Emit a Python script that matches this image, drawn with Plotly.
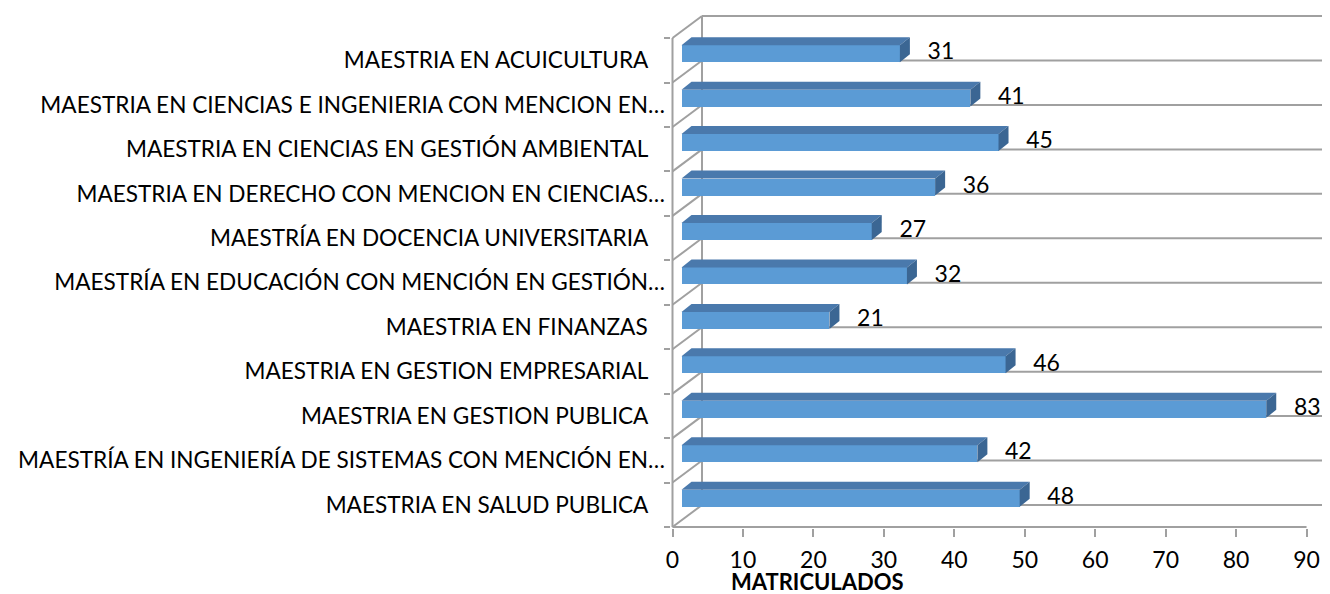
import plotly.graph_objects as go

# ---------------- data ----------------
categories = [
    "MAESTRIA EN ACUICULTURA\u00a0\u00a0\u00a0",
    "MAESTRIA EN CIENCIAS E INGENIERIA CON MENCION EN…",
    "MAESTRIA EN CIENCIAS EN GESTIÓN AMBIENTAL\u00a0\u00a0\u00a0",
    "MAESTRIA EN DERECHO CON MENCION EN CIENCIAS…",
    "MAESTRÍA EN DOCENCIA UNIVERSITARIA\u00a0\u00a0\u00a0",
    "MAESTRÍA EN EDUCACIÓN CON MENCIÓN EN GESTIÓN…",
    "MAESTRIA EN FINANZAS\u00a0\u00a0\u00a0",
    "MAESTRIA EN GESTION EMPRESARIAL\u00a0\u00a0\u00a0",
    "MAESTRIA EN GESTION PUBLICA\u00a0\u00a0\u00a0",
    "MAESTRÍA EN INGENIERÍA DE SISTEMAS CON MENCIÓN EN…",
    "MAESTRIA EN SALUD PUBLICA\u00a0\u00a0\u00a0",
]
matriculados = [31, 41, 45, 36, 27, 32, 21, 46, 83, 42, 48]
x_ticks = [0, 10, 20, 30, 40, 50, 60, 70, 80, 90]
x_title = "MATRICULADOS"

# ---------------- layout constants ----------------
PAGE_OFF = 8          # default body margin of the html page
W, H = 1330 - PAGE_OFF, 594 - PAGE_OFF
PX_X = 7.045          # pixels per x unit
PX_Y = 44.45          # pixels per category
X0_PIX = 672.5 - PAGE_OFF   # pixel of x = 0
Y0_PIX = 527.0 - PAGE_OFF   # pixel of y = 0 (floor front edge)
M_L, M_R, M_T, M_B = 671 - PAGE_OFF, 0, 0, 66

x_min = -(X0_PIX - M_L) / PX_X
x_max = (W - M_R - X0_PIX) / PX_X
y_min = -((H - M_B) - Y0_PIX) / PX_Y
y_max = (Y0_PIX - M_T) / PX_Y
plot_h = H - M_T - M_B

DEPTH_X = 29.5 / PX_X     # oblique depth of the 3D box
DEPTH_Y = 22.0 / PX_Y
BAR_SHIFT_X = 9.0 / PX_X  # bar front face offset into depth
BAR_SHIFT_Y = 6.6 / PX_Y
BAR_DX = 10.0 / PX_X      # bar depth
BAR_DY = 8.0 / PX_Y
BAR_H = 17.0 / PX_Y       # bar thickness
LABEL_OFF = 41.0 / PX_X

FRONT = "#5B9BD5"
TOP = "#4A79AC"
SIDE = "#3B6693"
GRID = "#A0A0A0"
FONT = "Lato"
FS = 23
FS_CAT = 22.6
FS_TITLE = 22

n = len(categories)
centers = [n - 1 - i + 0.5 for i in range(n)]
bar_y = [c + BAR_SHIFT_Y for c in centers]
x_end = max(x_ticks)

fig = go.Figure()
shapes = []

# walls / gridlines
line = dict(color=GRID, width=2)
for k in range(n + 1):
    shapes.append(dict(type="line", xref="x", yref="y", x0=DEPTH_X, x1=x_end + DEPTH_X + 10,
                       y0=k + DEPTH_Y, y1=k + DEPTH_Y, line=line, layer="below"))
    shapes.append(dict(type="line", xref="x", yref="y", x0=0, x1=DEPTH_X,
                       y0=k, y1=k + DEPTH_Y, line=line, layer="below"))
shapes.append(dict(type="line", xref="x", yref="y", x0=DEPTH_X, x1=DEPTH_X,
                   y0=DEPTH_Y, y1=n + DEPTH_Y, line=line, layer="below"))
shapes.append(dict(type="line", xref="x", yref="y", x0=0, x1=0,
                   y0=0, y1=n, line=line, layer="below"))
shapes.append(dict(type="line", xref="x", yref="y", x0=0, x1=x_end,
                   y0=0, y1=0, line=line, layer="below"))

# bar front faces
fig.add_trace(go.Bar(
    y=bar_y, x=matriculados, base=BAR_SHIFT_X, orientation="h", width=BAR_H,
    marker=dict(color=FRONT, line=dict(width=0)), hoverinfo="skip", showlegend=False,
))

# top & side faces
for v, yc in zip(matriculados, bar_y):
    yb, yt = yc - BAR_H / 2, yc + BAR_H / 2
    xl, xr = BAR_SHIFT_X, BAR_SHIFT_X + v
    fig.add_trace(go.Scatter(
        x=[xl, xr, xr + BAR_DX, xl + BAR_DX, xl],
        y=[yt, yt, yt + BAR_DY, yt + BAR_DY, yt],
        fill="toself", fillcolor=TOP, mode="lines", line=dict(width=0, color=TOP),
        hoverinfo="skip", showlegend=False))
    fig.add_trace(go.Scatter(
        x=[xr, xr + BAR_DX, xr + BAR_DX, xr, xr],
        y=[yb, yb + BAR_DY, yt + BAR_DY, yt, yb],
        fill="toself", fillcolor=SIDE, mode="lines", line=dict(width=0, color=SIDE),
        hoverinfo="skip", showlegend=False))

# data labels
fig.add_trace(go.Scatter(
    x=[BAR_SHIFT_X + v + LABEL_OFF for v in matriculados], y=bar_y,
    mode="text", text=[str(v) for v in matriculados],
    textfont=dict(family=FONT, size=FS, color="#000000"), textposition="middle center",
    cliponaxis=False, hoverinfo="skip", showlegend=False))

title_pix = 581 - PAGE_OFF  # vertical centre of axis title in figure pixels
fig.update_layout(
    width=W, height=H,
    margin=dict(l=M_L, r=M_R, t=M_T, b=M_B, autoexpand=False),
    paper_bgcolor="white", plot_bgcolor="white",
    font=dict(family=FONT, size=FS, color="#000000"),
    shapes=shapes,
    bargap=0,
    annotations=[dict(text="<b>" + x_title + "</b>", xref="x", yref="paper",
                      x=20.6, y=((H - M_B) - title_pix) / plot_h, showarrow=False,
                      font=dict(family=FONT, size=FS_TITLE, color="#000000"),
                      xanchor="center", yanchor="middle")],
    xaxis=dict(range=[x_min, x_max], tickvals=x_ticks, ticktext=[str(t) for t in x_ticks],
               ticks="outside", ticklen=8, tickwidth=2, tickcolor=GRID, automargin=False,
               ticklabelstandoff=3,
               showgrid=False, zeroline=False, showline=False,
               tickfont=dict(family=FONT, size=FS, color="#000000")),
    yaxis=dict(range=[y_min, y_max], tickvals=centers, ticktext=categories,
               ticks="", showgrid=False, zeroline=False, showline=False, automargin=False,
               ticklabelstandoff=5,
               minor=dict(tickvals=list(range(n + 1)), ticks="outside", ticklen=6,
                          tickwidth=2, tickcolor=GRID, showgrid=False),
               tickfont=dict(family=FONT, size=FS_CAT, color="#000000")),
)

fig.write_html("out.html")
